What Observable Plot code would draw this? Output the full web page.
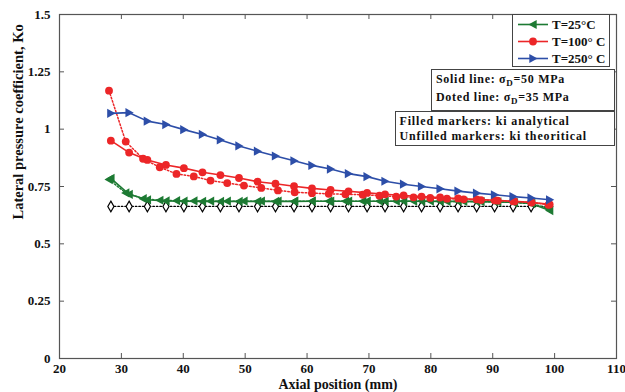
<!DOCTYPE html>
<html><head><meta charset="utf-8">
<script src="https://cdn.jsdelivr.net/npm/d3@7"></script>
<script src="https://cdn.jsdelivr.net/npm/@observablehq/plot@0.6"></script>
<style>
body{margin:0;background:#fff;}
#wrap{position:relative;width:625px;height:392px;}
#wrap svg.overlay{position:absolute;left:0;top:0;pointer-events:none;}
</style></head><body><div id="wrap"></div>
<script>
// ---- data ----
const xSolid = [28.3, 31.25, 34.2, 37.2, 40.1, 43.1, 46.0, 49.0, 52.0, 54.9, 57.9, 60.8, 63.8, 66.7, 69.7, 72.6, 75.6, 78.5, 81.5, 84.4, 87.4, 90.3, 93.3, 96.2, 99.2];
const xDotted = [28.0, 30.7, 33.5, 36.2, 38.9, 41.7, 44.4, 47.1, 49.8, 52.6, 55.3, 58.0, 60.8, 63.5, 66.2, 69.0, 71.7, 74.4, 77.2, 79.9, 82.6, 85.3, 88.1, 90.8, 93.5, 96.3, 99.0];
const kBlue50 = [1.069, 1.072, 1.035, 1.020, 0.998, 0.977, 0.953, 0.927, 0.904, 0.883, 0.862, 0.842, 0.826, 0.806, 0.793, 0.773, 0.760, 0.750, 0.740, 0.730, 0.721, 0.714, 0.706, 0.700, 0.692];
const kRed50 = [0.950, 0.898, 0.866, 0.844, 0.830, 0.812, 0.800, 0.787, 0.771, 0.762, 0.751, 0.742, 0.735, 0.729, 0.722, 0.716, 0.711, 0.706, 0.702, 0.698, 0.694, 0.690, 0.686, 0.681, 0.672];
const kRed35 = [1.168, 0.946, 0.871, 0.834, 0.805, 0.794, 0.776, 0.765, 0.754, 0.744, 0.733, 0.725, 0.721, 0.718, 0.716, 0.714, 0.710, 0.706, 0.703, 0.700, 0.697, 0.694, 0.691, 0.688, 0.685, 0.680, 0.670];
const kGreen50 = [0.785, 0.716, 0.692, 0.687, 0.686, 0.685, 0.685, 0.685, 0.685, 0.685, 0.685, 0.686, 0.686, 0.686, 0.686, 0.686, 0.686, 0.686, 0.685, 0.685, 0.684, 0.683, 0.681, 0.676, 0.645];
const kGreen35 = [0.780, 0.722, 0.697, 0.690, 0.688, 0.687, 0.686, 0.686, 0.686, 0.686, 0.686, 0.686, 0.686, 0.686, 0.686, 0.686, 0.686, 0.686, 0.686, 0.686, 0.685, 0.685, 0.684, 0.683, 0.680, 0.675, 0.655];
const kTheory = [0.663, 0.663, 0.663, 0.663, 0.663, 0.663, 0.663, 0.663, 0.663, 0.663, 0.663, 0.663, 0.663, 0.663, 0.663, 0.663, 0.663, 0.663, 0.663, 0.663, 0.663, 0.663, 0.663, 0.663, 0.663];
const xTicks = [20, 30, 40, 50, 60, 70, 80, 90, 100, 110];
const yTicks = [0, 0.25, 0.5, 0.75, 1, 1.25, 1.5];
const yTickLabels = ["0", "0.25", "0.5", "0.75", "1", "1.25", "1.5"];
const legendLabels = ["T=25°C", "T=100° C", "T=250° C"];
const xLabel = "Axial position (mm)";
const yLabel = "Lateral pressure coefficient, Ko";

// ---- styles ----
const GREEN = "#1d7a33", RED = "#ec2628", BLUE = "#2d4ea8";
const FONT = "'Liberation Serif','Times New Roman',serif";
const W = 625, H = 392, mL = 59, mR = 9, mT = 14, mB = 34;
const plotW = W - mL - mR, plotH = H - mT - mB;

const rows = (xs, ks) => xs.map((x, i) => ({x, k: ks[i]}));
const triLeft = {draw(c, size) { const a = Math.sqrt(size / Math.PI); c.moveTo(-a * 1.0, 0); c.lineTo(a * 0.8, -a); c.lineTo(a * 0.8, a); c.closePath(); }};
const triRight = {draw(c, size) { const a = Math.sqrt(size / Math.PI); c.moveTo(a * 1.0, 0); c.lineTo(-a * 0.8, -a); c.lineTo(-a * 0.8, a); c.closePath(); }};

const gS = rows(xSolid, kGreen50), gD = rows(xDotted, kGreen35);
const rS = rows(xSolid, kRed50), rD = rows(xDotted, kRed35);
const bS = rows(xSolid, kBlue50), th = rows(xSolid, kTheory);

const plot = Plot.plot({
  width: W, height: H, marginLeft: mL, marginRight: mR, marginTop: mT, marginBottom: mB,
  x: {domain: [20, 110]},
  y: {domain: [0, 1.5]},
  style: {fontFamily: FONT, fontWeight: "bold", fontSize: "13px", color: "#111", background: "#fff", overflow: "visible"},
  marks: [
    Plot.tickX(xTicks, {x: d => d, insetTop: plotH - 5, stroke: "#555"}),
    Plot.tickX(xTicks, {x: d => d, insetBottom: plotH - 5, stroke: "#555"}),
    Plot.tickY(yTicks, {y: d => d, insetRight: plotW - 5, stroke: "#555"}),
    Plot.tickY(yTicks, {y: d => d, insetLeft: plotW - 5, stroke: "#555"}),
    Plot.axisX({ticks: xTicks, tickSize: 0, tickPadding: 5, label: null, fontSize: 13}),
    Plot.axisY({ticks: yTicks, tickFormat: (d, i) => yTickLabels[i], tickSize: 0, tickPadding: 9, label: null, fontSize: 13}),
    // theoretical (unfilled diamonds)
    Plot.line(th, {x: "x", y: "k", stroke: "#000", strokeWidth: 1.3, strokeDasharray: "1.5,2"}),
    Plot.dot(th, {x: "x", y: "k", symbol: "diamond", r: 3.2, fill: "#fff", stroke: "#000", strokeWidth: 1.2}),
    // green
    Plot.line(gD, {x: "x", y: "k", stroke: GREEN, strokeWidth: 1.5, strokeDasharray: "1.5,2"}),
    Plot.dot(gD, {x: "x", y: "k", symbol: triLeft, r: 4.6, fill: GREEN}),
    Plot.line(gS, {x: "x", y: "k", stroke: GREEN, strokeWidth: 1.6}),
    Plot.dot(gS, {x: "x", y: "k", symbol: triLeft, r: 4.6, fill: GREEN}),
    // red
    Plot.line(rD, {x: "x", y: "k", stroke: RED, strokeWidth: 1.5, strokeDasharray: "1.5,2"}),
    Plot.dot(rD, {x: "x", y: "k", r: 3.9, fill: RED}),
    Plot.line(rS, {x: "x", y: "k", stroke: RED, strokeWidth: 1.6}),
    Plot.dot(rS, {x: "x", y: "k", r: 3.9, fill: RED}),
    // blue
    Plot.line(bS, {x: "x", y: "k", stroke: BLUE, strokeWidth: 1.6}),
    Plot.dot(bS, {x: "x", y: "k", symbol: triRight, r: 4.6, fill: BLUE}),
    Plot.frame({stroke: "#555", strokeWidth: 1.2}),
    Plot.text([xLabel], {frameAnchor: "bottom", dy: 30, fontSize: 14, fontWeight: "bold", fill: "#111", lineAnchor: "bottom"}),
    Plot.text([yLabel], {frameAnchor: "left", dx: -41, dy: 33, rotate: -90, fontSize: 14.5, fontWeight: "bold", fill: "#111"})
  ]
});
const wrap = document.getElementById("wrap");
wrap.appendChild(plot);

// ---- legend boxes (overlay) ----
const svg = d3.select(wrap).append("svg").attr("class", "overlay").attr("width", W).attr("height", H)
  .style("font-family", FONT).style("font-weight", "bold");

// box 1: series legend
svg.append("rect").attr("x", 512.5).attr("y", 14.5).attr("width", 97).attr("height", 52).attr("fill", "#fff").attr("stroke", "#444").attr("stroke-width", 1);
const legColors = [GREEN, RED, BLUE];
const legY = [24.5, 41.5, 58.5];
legendLabels.forEach((t, i) => {
  const y = legY[i];
  svg.append("line").attr("x1", 518).attr("x2", 548).attr("y1", y).attr("y2", y).attr("stroke", legColors[i]).attr("stroke-width", 1.6);
  if (i === 1) svg.append("circle").attr("cx", 533).attr("cy", y).attr("r", 3.9).attr("fill", RED);
  else {
    const p = d3.path(); (i === 0 ? triLeft : triRight).draw(p, 4.6 * 4.6 * Math.PI);
    svg.append("path").attr("d", p.toString()).attr("transform", `translate(533,${y})`).attr("fill", legColors[i]);
  }
  svg.append("text").attr("x", 552).attr("y", y + 4.6).attr("font-size", 13).attr("fill", "#111").text(t);
});

// box 2: line styles
svg.append("rect").attr("x", 431.5).attr("y", 69.5).attr("width", 183).attr("height", 41).attr("fill", "#fff").attr("stroke", "#444");
[["Solid line: σ", "D", "=50 MPa", 83], ["Doted line: σ", "D", "=35 MPa", 101]].forEach(([a, sub, b, y]) => {
  const t = svg.append("text").attr("x", 436).attr("y", y).attr("font-size", 12).attr("letter-spacing", 0.7).attr("fill", "#111");
  t.append("tspan").text(a);
  t.append("tspan").attr("dy", 3).attr("font-size", 9).text(sub);
  t.append("tspan").attr("dy", -3).text(b);
});

// box 3: marker styles
svg.append("rect").attr("x", 395.5).attr("y", 111.5).attr("width", 219).attr("height", 34).attr("fill", "#fff").attr("stroke", "#444");
[["Filled markers: ki analytical", 125], ["Unfilled markers: ki theoritical", 139.5]].forEach(([s, y]) => {
  svg.append("text").attr("x", 399.5).attr("y", y).attr("font-size", 12).attr("letter-spacing", 0.85).attr("fill", "#111").text(s);
});
</script></body></html>
